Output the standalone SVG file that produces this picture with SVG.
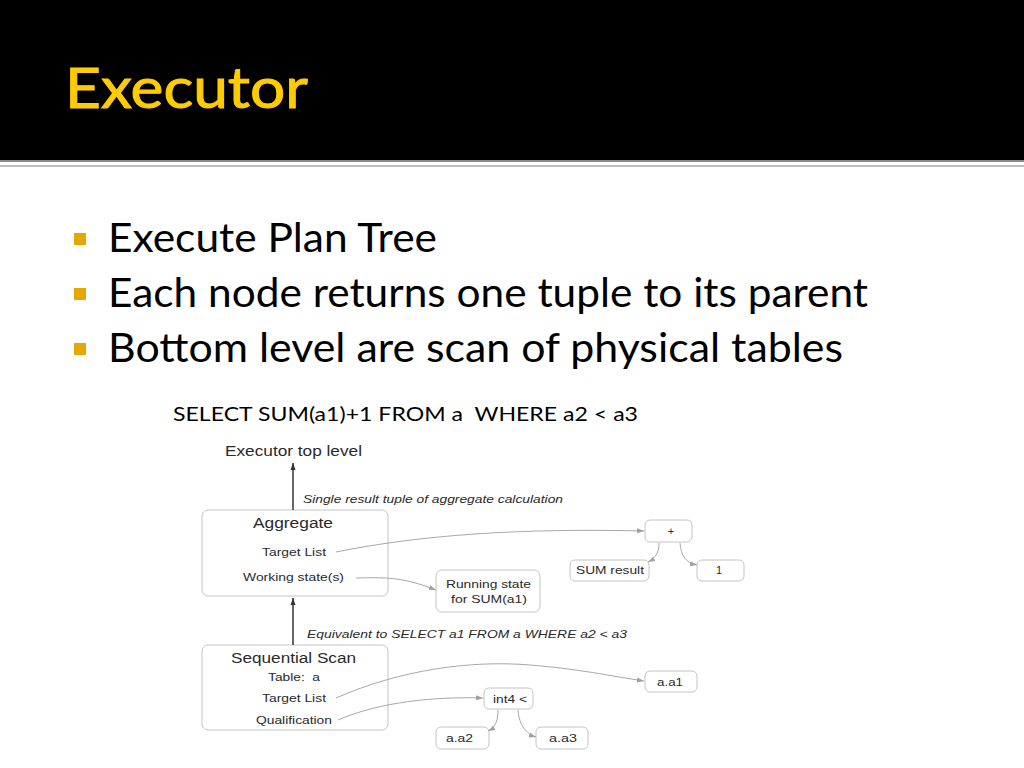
<svg xmlns="http://www.w3.org/2000/svg" width="1024" height="768" viewBox="0 0 1024 768">
<defs>
<style>
.title{font-family:Lato,"Open Sans",sans-serif;font-size:57px;font-weight:normal;fill:#FFCC00;stroke:#FFCC00;stroke-width:1}
.bul{font-family:Lato,"Noto Sans",sans-serif;font-size:40px;fill:#000}
.sql{font-family:Lato,"Noto Sans",sans-serif;font-size:20px;fill:#000}
.d{font-family:"Liberation Sans",Arial,sans-serif;fill:#2a2a2a}
.big{font-size:14px}
.sm{font-size:11px}
.it{font-size:11px;font-style:italic}
.box{fill:#fff;stroke:#c4c4c4;stroke-width:1}
.con{fill:none;stroke:#a8a8a8;stroke-width:1}
.main{fill:none;stroke:#333;stroke-width:1.5}
</style>
<marker id="ah" markerWidth="8" markerHeight="8" refX="7" refY="4" orient="auto" markerUnits="userSpaceOnUse">
<path d="M0,1.5 L7,4 L0,6.5 Z" fill="#a0a0a0"/>
</marker>
<marker id="ahd" markerWidth="8" markerHeight="8" refX="7" refY="4" orient="auto" markerUnits="userSpaceOnUse">
<path d="M0,1.5 L7,4 L0,6.5 Z" fill="#333"/>
</marker>
</defs>
<rect x="0" y="0" width="1024" height="768" fill="#fff"/>
<rect x="0" y="0" width="1024" height="160" fill="#000"/>
<rect x="0" y="160" width="1024" height="2" fill="#8a8a8a"/>
<rect x="0" y="165" width="1024" height="2" fill="#bdbdbd"/>
<text class="title" x="65" y="108" textLength="243" lengthAdjust="spacingAndGlyphs">Executor</text>

<g id="bullets">
<rect x="74" y="233" width="12" height="12" fill="#E6A800"/>
<rect x="74" y="288" width="12" height="12" fill="#E6A800"/>
<rect x="74" y="343" width="12" height="12" fill="#E6A800"/>
<text class="bul" x="108" y="252" textLength="329" lengthAdjust="spacingAndGlyphs">Execute Plan Tree</text>
<text class="bul" x="108" y="307" textLength="760" lengthAdjust="spacingAndGlyphs">Each node returns one tuple to its parent</text>
<text class="bul" x="108" y="362" textLength="735" lengthAdjust="spacingAndGlyphs">Bottom level are scan of physical tables</text>
</g>
<text class="sql" x="173" y="421" textLength="465" lengthAdjust="spacingAndGlyphs" xml:space="preserve">SELECT SUM(a1)+1 FROM a  WHERE a2 &lt; a3</text>

<text class="d big" x="225" y="456" textLength="137" lengthAdjust="spacingAndGlyphs">Executor top level</text>
<text class="d it" x="303" y="503" textLength="260" lengthAdjust="spacingAndGlyphs">Single result tuple of aggregate calculation</text>
<text class="d it" x="307" y="638" textLength="320" lengthAdjust="spacingAndGlyphs">Equivalent to SELECT a1 FROM a WHERE a2 &lt; a3</text>

<g id="aggregate">
<rect class="box" x="202" y="510" width="186" height="86" rx="6"/>
<text class="d big" x="253" y="528" textLength="80" lengthAdjust="spacingAndGlyphs">Aggregate</text>
<text class="d sm" x="262" y="556" textLength="64" lengthAdjust="spacingAndGlyphs">Target List</text>
<text class="d sm" x="243" y="581" textLength="101" lengthAdjust="spacingAndGlyphs">Working state(s)</text>
</g>
<g id="running">
<rect class="box" x="436" y="570" width="104" height="42" rx="6"/>
<text class="d sm" x="446" y="588" textLength="85" lengthAdjust="spacingAndGlyphs">Running state</text>
<text class="d sm" x="451" y="603" textLength="76" lengthAdjust="spacingAndGlyphs">for SUM(a1)</text>
</g>
<g id="plus">
<rect class="box" x="645" y="520" width="47" height="22" rx="5"/>
<text class="d sm" x="671" y="535" text-anchor="middle">+</text>
</g>
<g id="sumresult">
<rect class="box" x="570" y="560" width="79" height="21" rx="5"/>
<text class="d sm" x="576" y="574" textLength="68" lengthAdjust="spacingAndGlyphs">SUM result</text>
</g>
<g id="one">
<rect class="box" x="697" y="560" width="47" height="21" rx="5"/>
<text class="d sm" x="719" y="574" text-anchor="middle">1</text>
</g>
<g id="seqscan">
<rect class="box" x="202" y="645" width="186" height="85" rx="6"/>
<text class="d big" x="231" y="663" textLength="125" lengthAdjust="spacingAndGlyphs">Sequential Scan</text>
<text class="d sm" x="268" y="681" textLength="52" lengthAdjust="spacingAndGlyphs" xml:space="preserve">Table:  a</text>
<text class="d sm" x="262" y="702" textLength="64" lengthAdjust="spacingAndGlyphs">Target List</text>
<text class="d sm" x="256" y="724" textLength="76" lengthAdjust="spacingAndGlyphs">Qualification</text>
</g>
<g id="int4lt">
<rect class="box" x="484" y="688" width="49" height="21" rx="5"/>
<text class="d sm" x="493" y="703" textLength="34" lengthAdjust="spacingAndGlyphs">int4 &lt;</text>
</g>
<g id="aa1">
<rect class="box" x="645" y="671" width="52" height="21" rx="5"/>
<text class="d sm" x="657" y="686" textLength="26" lengthAdjust="spacingAndGlyphs">a.a1</text>
</g>
<g id="aa2">
<rect class="box" x="436" y="727" width="53" height="22" rx="5"/>
<text class="d sm" x="446" y="742" textLength="27" lengthAdjust="spacingAndGlyphs">a.a2</text>
</g>
<g id="aa3">
<rect class="box" x="536" y="727" width="52" height="22" rx="5"/>
<text class="d sm" x="549" y="742" textLength="28" lengthAdjust="spacingAndGlyphs">a.a3</text>
</g>

<g id="connectors">
<line class="main" x1="293" y1="510" x2="293" y2="463" marker-end="url(#ahd)"/>
<line class="main" x1="293" y1="645" x2="293" y2="598" marker-end="url(#ahd)"/>
<path class="con" d="M336,552 C420,535 520,528 644,531" marker-end="url(#ah)"/>
<path class="con" d="M356,578 C390,577 405,578 436,590" marker-end="url(#ah)"/>
<path class="con" d="M659,543 C659,552 656,558 648,562" marker-end="url(#ah)"/>
<path class="con" d="M680,543 C681,556 686,563 697,565" marker-end="url(#ah)"/>
<path class="con" d="M336,698 C400,670 470,660 530,665 C580,669 610,676 644,681" marker-end="url(#ah)"/>
<path class="con" d="M338,720 C370,706 420,696 483,698" marker-end="url(#ah)"/>
<path class="con" d="M498,710 C498,720 496,727 488,731" marker-end="url(#ah)"/>
<path class="con" d="M518,710 C519,725 526,734 536,737" marker-end="url(#ah)"/>
</g>
</svg>
